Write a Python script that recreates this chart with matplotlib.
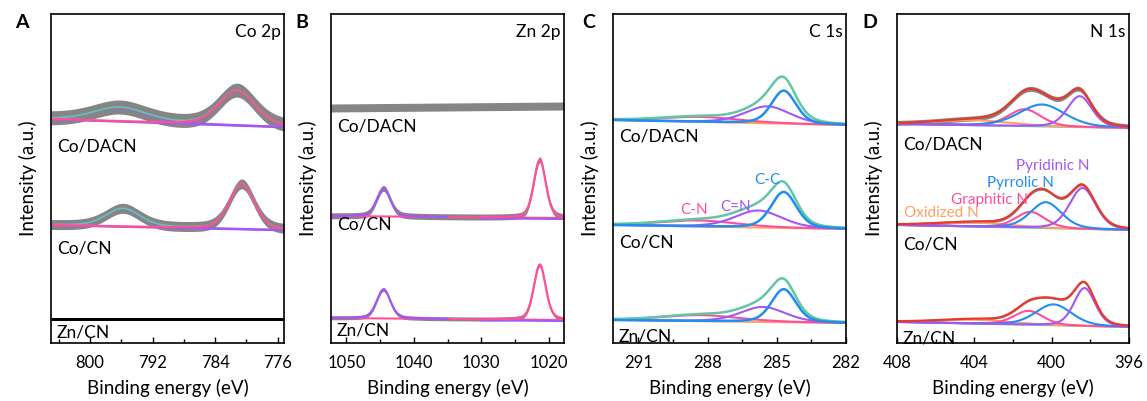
import numpy as np
import matplotlib
matplotlib.use("Agg")
import matplotlib.pyplot as plt
from matplotlib.ticker import MultipleLocator

plt.rcParams['font.family'] = ['Lato', 'DejaVu Sans']
plt.rcParams['font.size'] = 12

# colours of the fitted components
PINK = '#ff4f9a'
PURPLE = '#a557f5'
BLUE = '#1f8ef0'
TEAL = '#62c6a6'
ORANGE = '#ffa066'
RED = '#e8392c'
GRAY = '#858585'

samples = ['Co/DACN', 'Co/CN', 'Zn/CN']

# ---- panel A: Co 2p (peaks: centre eV, height, FWHM) ----
co_base = [(224, 216), (118, 113), (24, 24)]          # baseline at left / right end
co_noise = [7, 5, 1.5]
co_2p32 = [(781.2, 35, 5.5), (780.6, 45, 3.8), None]
co_2p12 = [(796.2, 14, 8.0), (795.8, 18, 5.2), None]

# ---- panel B: Zn 2p ----
zn_base = [(235, 237), (127, 125), (25, 23)]
zn_noise = [4, 3, 2]
zn_2p32 = [None, (1021.3, 58, 2.1), (1021.3, 55, 2.1)]
zn_2p12 = [None, (1044.5, 28, 2.4), (1044.5, 29, 2.4)]

# ---- panel C: C 1s ----
c_base = [(223, 218), (118, 114), (23, 20)]
c_cc = [(284.7, 33, 1.25), (284.7, 36, 1.3), (284.7, 33, 1.25)]
c_cn2 = [(285.4, 17, 2.3), (285.8, 17, 2.4), (285.6, 15, 2.3)]
c_cn = [(288.3, 5, 4.0), (288.4, 6, 4.0), (288.3, 6, 4.0)]

# ---- panel D: N 1s ----
n_base = [(219, 215), (118, 113), (21, 16)]
n_noise = [2.5, 1.5, 1.0]
n_pyridinic = [(398.55, 31, 1.5), (398.4, 41, 1.6), (398.3, 38, 1.3)]
n_pyrrolic = [(400.5, 22, 2.8), (400.3, 26, 1.9), (399.9, 21, 2.2)]
n_graphitic = [(401.4, 17, 2.0), (401.1, 16, 1.8), (401.2, 14, 1.8)]
n_oxidized = [(404.0, 5, 4.5), (404.0, 4, 4.5), (404.0, 4, 4.5)]

label_y = {'A': [196, 95, 10], 'B': [216, 118, 13], 'C': [206, 101, 6], 'D': [198, 98, 5]}


def peak(x, p, eta=0.3):
    c, h, w = p
    g = np.exp(-4 * np.log(2) * (x - c) ** 2 / w ** 2)
    l = 1 / (1 + 4 * (x - c) ** 2 / w ** 2)
    return h * ((1 - eta) * g + eta * l)


def baseline(x, b, xlim):
    t = (x - xlim[0]) / (xlim[1] - xlim[0])
    return b[0] + (b[1] - b[0]) * t


fig = plt.figure(figsize=(11.47, 4.01), dpi=100)
boxes = [(51, 233), (331, 233), (613, 233), (897, 232)]
axes = []
for left, w in boxes:
    axes.append(fig.add_axes([left / 1147, 1 - 343 / 401, w / 1147, 329 / 401]))

# A
ax = axes[0]
xlim = (805.0, 775.2)
x = np.linspace(xlim[0], xlim[1], 600)
for i in range(3):
    base = baseline(x, co_base[i], xlim)
    if co_2p32[i] is None:
        ax.fill_between(x, base - co_noise[i], base + co_noise[i], color='black', lw=0)
        continue
    p1 = peak(x, co_2p32[i])
    p2 = peak(x, co_2p12[i])
    env = base + p1 + p2
    ax.fill_between(x, env - co_noise[i], env + co_noise[i], color=GRAY, lw=0)
    ax.plot(x, base, color=ORANGE, lw=1.5)
    ax.plot(x, base - 0.5, color=PURPLE, lw=1.2)
    ax.plot(x, base + p2, color=PURPLE, lw=1.5)
    ax.plot(x, env, color=TEAL, lw=1.3)
    ax.plot(x, base + p1, color=PINK, lw=1.5)
ax.set_xlim(xlim)
ax.xaxis.set_major_locator(MultipleLocator(8))
ax.xaxis.set_minor_locator(MultipleLocator(4))

# B
ax = axes[1]
xlim = (1052.3, 1017.7)
x = np.linspace(xlim[0], xlim[1], 600)
for i in range(3):
    base = baseline(x, zn_base[i], xlim)
    if zn_2p32[i] is None:
        ax.fill_between(x, base - zn_noise[i], base + zn_noise[i], color=GRAY, lw=0)
        continue
    p1 = peak(x, zn_2p32[i])
    p2 = peak(x, zn_2p12[i])
    env = base + p1 + p2
    ax.fill_between(x, env - zn_noise[i], env + zn_noise[i], color=GRAY, lw=0)
    ax.plot(x, base, color=PINK, lw=1.5)
    ax.plot(x[x < 1030], base[x < 1030] - 1, color=PURPLE, lw=1.5)
    ax.plot(x[x > 1035], (base + p2)[x > 1035], color=PURPLE, lw=1.6)
    ax.plot(x[x < 1030], (base + p1)[x < 1030], color=PINK, lw=1.6)
ax.set_xlim(xlim)
ax.xaxis.set_major_locator(MultipleLocator(10))
ax.xaxis.set_minor_locator(MultipleLocator(5))

# C
ax = axes[2]
xlim = (292.1, 282.0)
x = np.linspace(xlim[0], xlim[1], 600)
for i in range(3):
    base = baseline(x, c_base[i], xlim)
    pc = peak(x, c_cc[i])
    pn2 = peak(x, c_cn2[i])
    pn = peak(x, c_cn[i])
    env = base + pc + pn2 + pn
    ax.plot(x, base, color=ORANGE, lw=1.5)
    ax.plot(x, base + pn, color=PINK, lw=1.5)
    ax.plot(x, base + pn2, color=PURPLE, lw=1.5)
    ax.plot(x, env, color=TEAL, lw=1.8)
    ax.plot(x, base + pc, color=BLUE, lw=1.8)
ax.set_xlim(xlim)
ax.xaxis.set_major_locator(MultipleLocator(3))
ax.xaxis.set_minor_locator(MultipleLocator(1.5))
ax.text(285.4, 163, 'C-C', color=BLUE, fontsize=11, ha='center', va='center')
ax.text(286.8, 136, 'C=N', color=PURPLE, fontsize=11, ha='center', va='center')
ax.text(288.6, 133, 'C-N', color=PINK, fontsize=11, ha='center', va='center')

# D
ax = axes[3]
xlim = (408.0, 396.0)
x = np.linspace(xlim[0], xlim[1], 600)
for i in range(3):
    base = baseline(x, n_base[i], xlim)
    py = peak(x, n_pyridinic[i])
    pr = peak(x, n_pyrrolic[i])
    gr = peak(x, n_graphitic[i])
    ox = peak(x, n_oxidized[i])
    env = base + py + pr + gr + ox
    ax.fill_between(x, env - n_noise[i], env + n_noise[i], color=GRAY, lw=0)
    ax.plot(x, base, color=TEAL, lw=1.3)
    ax.plot(x, base + ox, color=ORANGE, lw=1.5)
    ax.plot(x, base + gr, color=PINK, lw=1.5)
    ax.plot(x, base + pr, color=BLUE, lw=1.5)
    ax.plot(x, base + py, color=PURPLE, lw=1.5)
    ax.plot(x, env, color=RED, lw=1.6)
ax.set_xlim(xlim)
ax.xaxis.set_major_locator(MultipleLocator(4))
ax.xaxis.set_minor_locator(MultipleLocator(2))
ax.text(399.95, 177, 'Pyridinic N', color=PURPLE, fontsize=11, ha='center', va='center')
ax.text(401.6, 160, 'Pyrrolic N', color=BLUE, fontsize=11, ha='center', va='center')
ax.text(403.2, 143, 'Graphitic N', color=PINK, fontsize=11, ha='center', va='center')
ax.text(405.7, 130, 'Oxidized N', color=ORANGE, fontsize=11, ha='center', va='center')

titles = ['Co 2p', 'Zn 2p', 'C 1s', 'N 1s']
letters = ['A', 'B', 'C', 'D']
letter_x = [15, 295, 582, 862]
for ax, t, letter, lx in zip(axes, titles, letters, letter_x):
    ax.set_ylim(0, 329)
    ax.set_yticks([])
    ax.set_ylabel('Intensity (a.u.)', fontsize=13.5, labelpad=10)
    ax.set_xlabel('Binding energy (eV)', fontsize=13.5, labelpad=5)
    ax.tick_params(axis='x', which='major', direction='in', length=4, width=1, pad=9, labelsize=12)
    ax.tick_params(axis='x', which='minor', direction='in', length=3, width=1)
    for s in ax.spines.values():
        s.set_linewidth(1.2)
    ax.text(0.985, 0.945, t, transform=ax.transAxes, ha='right', va='center', fontsize=12.5)
    for name, yy in zip(samples, label_y[letter]):
        ax.text(0.025, yy / 329, name, transform=ax.transAxes, ha='left', va='center', fontsize=12.5)
    fig.text(lx / 1147, 1 - 22 / 401, letter, fontsize=14, fontweight='bold', ha='left', va='center')

fig.savefig('out.png', dpi=100)
